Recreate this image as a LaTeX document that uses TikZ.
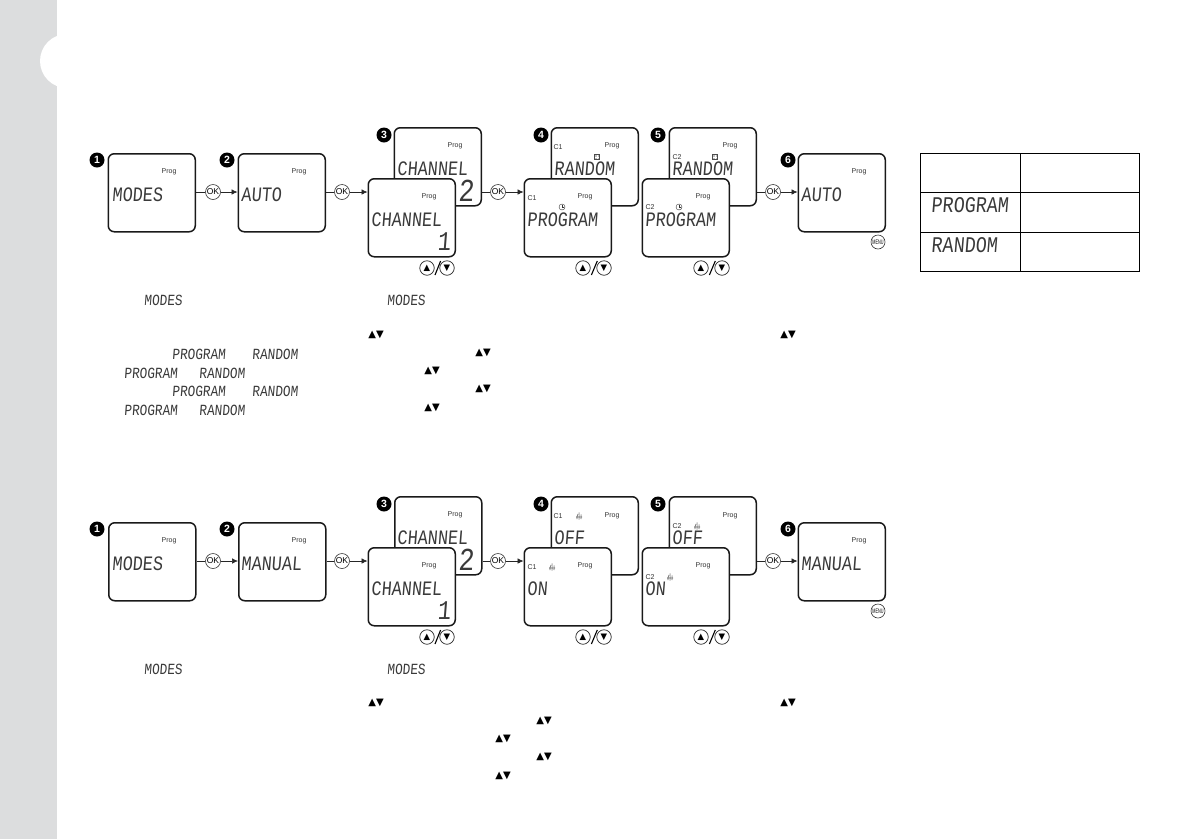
\documentclass[tikz,border=0pt]{standalone}
\usepackage{xcolor}
\usepackage{fontspec}
\usepackage{tikz}
\usetikzlibrary{arrows.meta, calc}
\setmainfont{Liberation Sans}
\newfontfamily\lcdfont[FakeStretch=0.82,FakeSlant=0.08]{Liberation Mono}
\newfontfamily\symfont{DejaVu Sans}
\definecolor{bandgrey}{HTML}{DCDDDE}
\definecolor{lcdgrey}{HTML}{3A3A3A}
\tikzset{
  screen/.style={draw=black!90, line width=1.5pt, rounded corners=6pt, fill=white,
    minimum width=87pt, minimum height=78pt, anchor=north west, inner sep=0pt},
  lcdtext/.style={anchor=west, inner sep=0pt, text=lcdgrey, font=\lcdfont\fontsize{20.5}{21}\selectfont},
  lcdsmall/.style={lcdtext, font=\lcdfont\fontsize{15.5}{16}\selectfont},
  lcdtable/.style={lcdtext, font=\lcdfont\fontsize{22.4}{23}\selectfont},
  lcdnum/.style={inner sep=0pt, text=lcdgrey, font=\lcdfont\fontsize{#1}{#1}\selectfont},
  smalllabel/.style={inner sep=0pt, text=black!80, font=\fontsize{7}{8}\selectfont},
  bullet/.style={circle, fill=black, text=white, inner sep=0pt, minimum size=15pt,
    font=\bfseries\fontsize{10.5}{11}\selectfont},
  okbutton/.style={circle, draw=black!80, line width=.6pt, fill=white, inner sep=0pt,
    minimum size=15pt, font=\fontsize{8.5}{9}\selectfont},
  keybutton/.style={circle, draw=black!85, line width=.7pt, fill=white, inner sep=0pt,
    minimum size=14.5pt, font=\symfont\fontsize{8.5}{9}\selectfont},
  menubutton/.style={circle, draw=black!80, line width=.6pt, fill=white, inner sep=0pt, minimum size=14pt},
  updown/.style={inner sep=0pt, font=\symfont\fontsize{10}{10}\selectfont},
  flow/.style={draw=black!85, line width=.6pt},
  tablecell/.style={draw=black, line width=.8pt, anchor=north west, inner sep=0pt},
  pics/clockicon/.style={code={
    \draw[line width=.4pt, black!80] (0,0) circle (3pt);
    \draw[line width=.4pt, black!80] (0,-2) -- (0,0) -- (1.6,0);}},
  pics/randomicon/.style={code={
    \draw[line width=.5pt, black!70, fill=black!25] (-2.5,-2.5) rectangle (2.5,2.5);
    \draw[line width=.6pt, white] (-1.6,0) -- (1.6,0) (0,-1.6) -- (0,1.6);}},
  pics/heaticon/.style={code={
    \draw[line width=.6pt, black!60] (-2,3) .. controls (-2.8,1) and (-1.5,0) .. (-1,-2)
      (0,3.5) .. controls (-.5,1) and (1,-1) .. (0,-3.5)
      (2,3) .. controls (1.5,1) and (2.8,0) .. (2,-1.5)
      (-3,1) -- (3,1);}},
}
\begin{document}
\begin{tikzpicture}[x=1pt, y=-1pt]
  \useasboundingbox (0,0) rectangle (1191,839);
  \fill[bandgrey] (0,0) rectangle (57,839);
  \fill[white] (67,61) circle (27pt);

  % display boxes, back ones first
  \foreach \nm/\px/\py in {a1/107.5/153, a2/237.5/153, a3b/393.5/127, a3f/367.5/178,
      a4b/550.5/127, a4f/523.5/178, a5b/668.5/127, a5f/641.5/178, a6/797.5/153,
      m1/108/522, m2/238/522, m3b/394/496, m3f/367.5/547,
      m4b/550.5/496, m4f/523.5/547, m5b/668.5/496, m5f/641.5/547, m6/797.5/522}
    \node[screen] (\nm) at (\px,\py) {};

  % step numbers
  \foreach \nm/\px/\py/\num in {na1/97/160/1, na2/227/160/2, na3/384/135/3, na4/541/135/4, na5/658/135/5, na6/788/160/6,
      nm1/97/529/1, nm2/227/529/2, nm3/384/504/3, nm4/541/504/4, nm5/658/504/5, nm6/788/529/6}
    \node[bullet] (\nm) at (\px,\py) {\num};

  % big display words
  \foreach \nm/\px/\py/\word in {la1/112/195/MODES, la2/241/195/AUTO, la3b/397/169/CHANNEL, la3f/371/220/CHANNEL,
      la4b/554/169/RANDOM, la4f/527/220/PROGRAM, la5b/672/169/RANDOM, la5f/645/220/PROGRAM, la6/801/195/AUTO,
      lm1/112/564/MODES, lm2/241/564/MANUAL, lm3b/397/538/CHANNEL, lm3f/371/589/CHANNEL,
      lm4b/554/538/OFF, lm4f/527/589/ON, lm5b/672/538/OFF, lm5f/645/589/ON, lm6/801/564/MANUAL}
    \node[lcdtext] (\nm) at (\px,\py) {\word};
  \foreach \nm/\px/\py/\size/\num in {da3b/466/191/32/2, da3f/444/242/27/1, dm3b/466/560/32/2, dm3f/444/611/27/1}
    \node[lcdnum=\size] (\nm) at (\px,\py) {\num};

  % small display labels
  \foreach \nm/\px/\py in {pa1/169/172, pa2/299/172, pa3b/455/146, pa3f/429/197, pa4b/612/146, pa4f/585/197,
      pa5b/730/146, pa5f/703/197, pa6/859/172,
      pm1/169/541, pm2/299/541, pm3b/455/515, pm3f/429/566, pm4b/612/516, pm4f/585/566,
      pm5b/730/516, pm5f/703/566, pm6/859/541}
    \node[smalllabel] (\nm) at (\px,\py) {Prog};
  \foreach \nm/\px/\py/\word in {ca4b/558/147/C1, ca4f/532/198/C1, ca5b/677/157/C2, ca5f/650/207/C2,
      cm4b/558/516/C1, cm4f/532/567/C1, cm5b/677/526/C2, cm5f/650/577/C2}
    \node[smalllabel] (\nm) at (\px,\py) {\word};
  \pic at (562,207) {clockicon};
  \pic at (679,207) {clockicon};
  \pic at (597,157) {randomicon};
  \pic at (715,157) {randomicon};
  \foreach \px/\py in {579/516, 552/567, 697/526, 670/577}
    \pic at (\px,\py) {heaticon};

  % OK buttons and the arrows through them
  \foreach \nm/\px/\py in {oka1/213/192, oka2/342/192, oka3/498/192, oka4/773/192,
      okm1/213/561, okm2/342/561, okm3/498/561, okm4/773/561}
    \node[okbutton] (\nm) at (\px,\py) {OK};
  \foreach \from/\via/\to in {a1/oka1/a2, a2/oka2/a3f, a3b/oka3/a4f, a5b/oka4/a6,
      m1/okm1/m2, m2/okm2/m3f, m3b/okm3/m4f, m5b/okm4/m6}
    \draw[flow, -{Latex[length=6pt,width=5.5pt]}] (\via.west -| \from.east) -- (\via.west)
      (\via.east) -- (\via.east -| \to.west);

  % arrow keys under the displays
  \foreach \nm/\ux/\dx/\py in {ka3/427/447/268, ka4/583/604/268, ka5/701/722/268,
      km3/427/447/637, km4/583/604/637, km5/701/722/637} {
    \node[keybutton] (up\nm) at (\ux,\py) {▲};
    \node[keybutton] (dn\nm) at (\dx,\py) {▼};
    \draw[line width=1.1pt] ($(up\nm)!.4!(dn\nm)+(0,7)$) -- ($(up\nm)!.68!(dn\nm)+(0,-7)$);
  }
  \node[menubutton] (menua) at (878,242) {\fontsize{6.5}{7}\selectfont\scalebox{.58}[1]{MENU}};
  \node[menubutton] (menum) at (878,611) {\fontsize{6.5}{7}\selectfont\scalebox{.58}[1]{MENU}};

  % words in the running text
  \foreach \nm/\px/\py/\word in {ta1/144/300/MODES, ta2/387/300/MODES, ta3/172/354/PROGRAM, ta4/252/354/RANDOM,
      ta5/124/373/PROGRAM, ta6/199/373/RANDOM, ta7/172/391/PROGRAM, ta8/252/391/RANDOM,
      ta9/124/410/PROGRAM, ta10/199/410/RANDOM, tm1/144/669/MODES, tm2/387/669/MODES}
    \node[lcdsmall] (\nm) at (\px,\py) {\word};
  \foreach \nm/\px/\py in {ud1/376/335, ud2/788/335, ud3/483/353, ud4/432/371, ud5/483/389, ud6/432/408,
      ud7/376/703, ud8/788/703, ud9/544/721, ud10/503/739, ud11/544/757, ud12/503/776}
    \node[updown] (\nm) at (\px,\py) {▲▼};

  % table
  \node[tablecell, minimum width=100pt, minimum height=39pt] (cella) at (920,153) {};
  \node[tablecell, minimum width=119pt, minimum height=39pt] (cellb) at (1020,153) {};
  \node[tablecell, minimum width=100pt, minimum height=40pt] (cellc) at (920,192) {};
  \node[tablecell, minimum width=119pt, minimum height=40pt] (celld) at (1020,192) {};
  \node[tablecell, minimum width=100pt, minimum height=39pt] (celle) at (920,232) {};
  \node[tablecell, minimum width=119pt, minimum height=39pt] (cellf) at (1020,232) {};
  \node[lcdtable] (tabprog) at (931,205) {PROGRAM};
  \node[lcdtable] (tabrand) at (931,245) {RANDOM};
\end{tikzpicture}
\end{document}
